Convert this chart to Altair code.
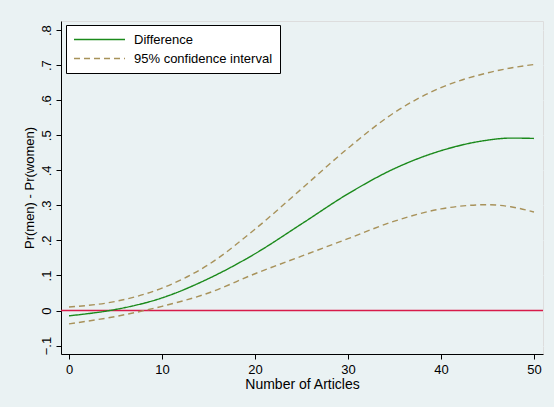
import altair as alt
import pandas as pd

articles = [0, 5, 10, 15, 20, 25, 30, 35, 40, 45, 47.5, 50]
difference = [-0.015, 0.003, 0.036, 0.091, 0.162, 0.247, 0.333, 0.405, 0.456, 0.486, 0.492, 0.491]
upper_ci = [0.010, 0.026, 0.064, 0.131, 0.232, 0.347, 0.463, 0.565, 0.636, 0.678, 0.692, 0.702]
lower_ci = [-0.038, -0.017, 0.012, 0.050, 0.105, 0.155, 0.205, 0.255, 0.290, 0.302, 0.296, 0.281]
y_ticks = [-0.1, 0, 0.1, 0.2, 0.3, 0.4, 0.5, 0.6, 0.7, 0.8]
x_ticks = [0, 10, 20, 30, 40, 50]

rows = []
for a, d, u, l in zip(articles, difference, upper_ci, lower_ci):
    rows.append({"x": a, "y": d, "series": "Difference", "band": "diff"})
    rows.append({"x": a, "y": u, "series": "95% confidence interval", "band": "upper"})
    rows.append({"x": a, "y": l, "series": "95% confidence interval", "band": "lower"})
df = pd.DataFrame(rows)

FONT = "Liberation Sans"
BG = "#EAF2F3"

xscale = alt.Scale(domain=[-0.86, 50.97], nice=False, zero=False)
yscale = alt.Scale(domain=[-0.124, 0.826], nice=False, zero=False)

yaxis = alt.Axis(values=y_ticks, title="Pr(men) - Pr(women)",
                 labelExpr="datum.value == 0 ? '0' : replace(format(datum.value, '.1f'), '0.', '.')",
                 grid=True, gridColor=BG, gridWidth=1.2, labelOverlap=False,
                 labelAngle=270, labelAlign="center", labelBaseline="bottom",
                 labelFontSize=13, titleFontSize=13, titleFontWeight="normal",
                 labelPadding=3, titlePadding=4, tickSize=5,
                 domainColor="#000000", tickColor="#000000",
                 labelColor="#000000", titleColor="#000000")

lines = alt.Chart(df).mark_line(interpolate="monotone", strokeWidth=1.4).encode(
    x=alt.X("x:Q", scale=xscale,
            axis=alt.Axis(values=x_ticks, title="Number of Articles", grid=False,
                          labelFontSize=13, titleFontSize=14, titleFontWeight="normal",
                          labelPadding=4, titlePadding=1, tickSize=5,
                          domainColor="#000000", tickColor="#000000",
                          labelColor="#000000", titleColor="#000000")),
    y=alt.Y("y:Q", scale=yscale, axis=yaxis),
    color=alt.Color("series:N",
                    scale=alt.Scale(domain=["Difference", "95% confidence interval"],
                                    range=["#1B8A1B", "#A8925A"]),
                    legend=alt.Legend(title=None, orient="none", legendX=5, legendY=4,
                                      symbolType="stroke", symbolSize=2600,
                                      symbolStrokeWidth=1.5, clipHeight=15,
                                      labelFontSize=13, labelFont=FONT, labelColor="#000000",
                                      fillColor="#FFFFFF", strokeColor="#000000",
                                      padding=7, rowPadding=4, labelOffset=8)),
    strokeDash=alt.StrokeDash("series:N",
                              scale=alt.Scale(domain=["Difference", "95% confidence interval"],
                                              range=[[1, 0], [6, 4]]),
                              legend=None),
    detail="band:N",
    order="x:Q",
)

zero = alt.Chart(pd.DataFrame({"y": [0]})).mark_rule(color="#D81B4A", strokeWidth=1.4).encode(
    y=alt.Y("y:Q", scale=yscale, axis=yaxis)
)

chart = alt.layer(zero, lines).properties(
    width=482, height=333, background=BG,
    padding={"left": 61, "top": 21, "right": 11, "bottom": 53},
    autosize=alt.AutoSizeParams(type="none"),
).configure_view(stroke=None, fill="#FFFFFF").configure(
    font=FONT
).configure_axis(labelFont=FONT, titleFont=FONT, labelOverlap=False)

chart.save("out.html", embed_options={"renderer": "svg", "actions": False})
